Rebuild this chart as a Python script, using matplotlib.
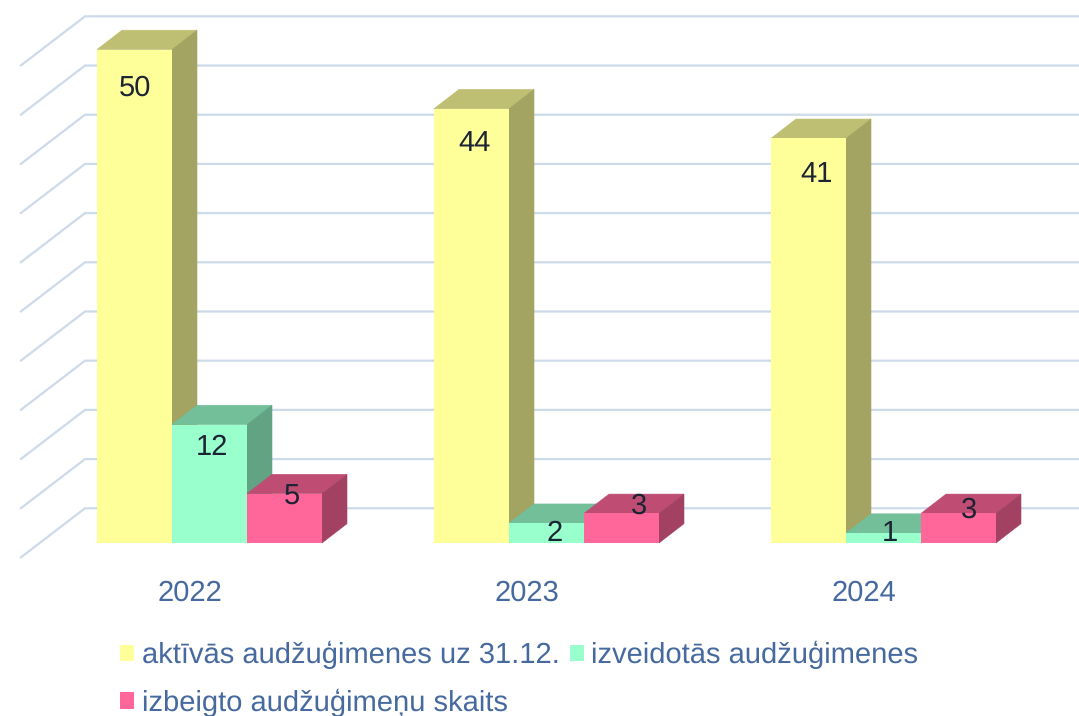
import matplotlib
matplotlib.use("Agg")
import matplotlib.pyplot as plt
from matplotlib.colors import to_rgb
from matplotlib.patches import Polygon

plt.rcParams["text.hinting"] = "no_hinting"

# Data
years = ["2022", "2023", "2024"]
seriesNames = ["aktīvās audžuģimenes uz 31.12.", "izveidotās audžuģimenes", "izbeigto audžuģimeņu skaits"]
active = [50, 44, 41]
created = [12, 2, 1]
ended = [5, 3, 3]
gridLevels = [0, 5, 10, 15, 20, 25, 30, 35, 40, 45, 50]

# Styles
colors = ["#ffff99", "#99ffcc", "#ff6699"]
gridColor = "#cddaea"
labelColor = "#1c2333"
axisColor = "#466a9f"
fontName = "Liberation Sans"

# Pixel scale of the picture
W, H = 1079, 716
pxPerCat = 337.0
pxPerVal = 9.87
tickPx = 190.0     # x pixel of the first year label
basePx = 543.0     # y pixel of value 0
barW = 75 / pxPerCat
depthX = 25 / pxPerCat
depthY = 19.3 / pxPerVal

# Label offsets (px) from the top-centre of each bar
labelOffsets = [
    [(1, -39), (2, -23), (7, -4)],
    [(3, -35), (8, -10), (17, 7)],
    [(8, -36), (6, 0), (10, 3)],
]


def shade(color, k):
    return tuple(c * k for c in to_rgb(color))


# Draw one 3D column: top and side first, then the front
def drawColumn(ax, x, value, color, zorder, label=None):
    top = [(x, value), (x + depthX, value + depthY), (x + barW + depthX, value + depthY), (x + barW, value)]
    side = [(x + barW, 0), (x + barW + depthX, depthY), (x + barW + depthX, value + depthY), (x + barW, value)]
    ax.add_patch(Polygon(top, closed=True, fc=shade(color, 0.75), ec=shade(color, 0.75), lw=0.4, zorder=zorder))
    ax.add_patch(Polygon(side, closed=True, fc=shade(color, 0.64), ec=shade(color, 0.64), lw=0.4, zorder=zorder))
    return ax.bar(x, value, width=barW, align="edge", color=color, zorder=zorder + 0.1, label=label)


# Back wall and left wall grid lines
def drawGrid(ax, xLeft, xBack, xRight):
    for level in gridLevels:
        y = level * 0.9968
        ax.plot([xLeft, xBack, xRight], [y - 1.45, y + 3.52, y + 3.52], color=gridColor, lw=1.6,
                solid_joinstyle="miter", zorder=1)


fig = plt.figure(figsize=(W / 100, H / 100), dpi=100)
ax = fig.add_axes([0, 0, 1, 1])
ax.set_xlim(-tickPx / pxPerCat, (W - tickPx) / pxPerCat)
ax.set_ylim(-(H - basePx) / pxPerVal, basePx / pxPerVal)

drawGrid(ax, (21 - tickPx) / pxPerCat, (85 - tickPx) / pxPerCat, (W - tickPx) / pxPerCat)

allSeries = [active, created, ended]
startX = -93 / pxPerCat
handles = [None, None, None]
for i in range(len(years)):
    for j, series in enumerate(allSeries):
        x = i + startX + j * barW
        bars = drawColumn(ax, x, series[i], colors[j], 2 + j, seriesNames[j] if i == 0 else None)
        if i == 0:
            handles[j] = bars
    for j, series in enumerate(allSeries):
        x = i + startX + j * barW
        ax.annotate(str(series[i]), (x + barW / 2, series[i]), xytext=labelOffsets[i][j],
                    textcoords="offset pixels", ha="center", va="center", fontsize=21,
                    color=labelColor, family=fontName, zorder=10)

# Axis: only the year labels stay visible
for spine in ax.spines.values():
    spine.set_visible(False)
ax.spines["bottom"].set_position(("data", 0))
ax.set_xticks(range(len(years)))
ax.set_xticklabels(years, fontsize=21, color=axisColor, family=fontName)
ax.tick_params(axis="x", length=0, pad=26.5)
ax.set_yticks([])
ax.patch.set_alpha(0)

# Legend fills by column, so the third series goes under the first
order = [0, 2, 1]
ax.legend([handles[k] for k in order], [seriesNames[k] for k in order],
          loc="upper left", bbox_to_anchor=(94 / W, 1 - 615 / H), ncol=2, frameon=False,
          prop={"family": fontName, "size": 21}, labelcolor=axisColor,
          handlelength=0.476, handleheight=0.476, handletextpad=0.27, columnspacing=0.34, labelspacing=0.66)

fig.savefig("out.png", dpi=100)
